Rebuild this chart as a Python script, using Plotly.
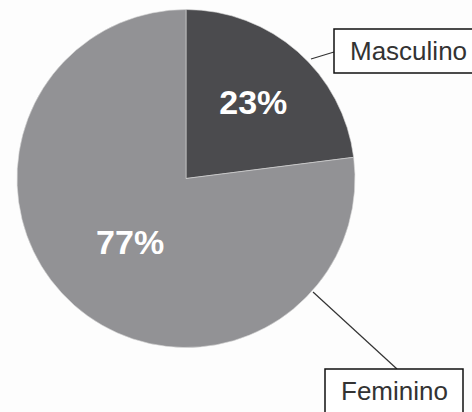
import plotly.graph_objects as go

labels = ["Masculino", "Feminino"]
values = [23, 77]
colors = ["#4b4b4e", "#929295"]

W, H = 472, 412
cx, cy, r = 186, 178.5, 169

fig = go.Figure(go.Pie(
    labels=labels,
    values=values,
    sort=False,
    direction="clockwise",
    rotation=0,
    marker=dict(colors=colors, line=dict(color="#d8d8d8", width=0.6)),
    textinfo="percent",
    texttemplate="%{percent:.0%}",
    textposition="inside",
    insidetextorientation="horizontal",
    textfont=dict(family="Liberation Sans, Arial, sans-serif", size=34, color="white", weight="bold"),
    domain=dict(x=[(cx - r) / W, (cx + r) / W], y=[(H - cy - r) / H, (H - cy + r) / H]),
    showlegend=False,
    hoverinfo="label+percent",
))

label_font = dict(family="Liberation Sans, Arial, sans-serif", size=26, color="#333333")


def px(x):
    return x / W


def py(y):
    return 1 - y / H


# label callouts: text, rim point (x, y), line end on box (x, y), box (x0, y0, x1, y1)
callouts = [
    (labels[0], (311, 59), (334, 52), (334, 29, 482, 73)),
    (labels[1], (313, 292), (397, 369), (325, 369, 463, 415)),
]
for text, (rx, ry), (ex, ey), (x0, y0, x1, y1) in callouts:
    fig.add_shape(type="line", xref="paper", yref="paper",
                  x0=px(rx), y0=py(ry), x1=px(ex), y1=py(ey),
                  line=dict(color="#333333", width=1.2))
    fig.add_shape(type="rect", xref="paper", yref="paper",
                  x0=px(x0), y0=py(y0), x1=px(x1), y1=py(y1),
                  line=dict(color="#111111", width=1.5), fillcolor="white")
    tx = x0 + (x1 - x0) / 2 if x1 <= W else x0 + 14
    fig.add_annotation(
        x=px(tx), y=py(y0 + 22), xref="paper", yref="paper",
        xanchor="center" if x1 <= W else "left", yanchor="middle",
        text=text, showarrow=False, font=label_font,
    )

fig.update_layout(
    width=W, height=H,
    margin=dict(l=0, r=0, t=0, b=0),
    paper_bgcolor="#fdfdfd",
    plot_bgcolor="#fdfdfd",
)

fig.write_html(
    "out.html",
    config={"displayModeBar": False},
    post_script="document.body.style.margin='0';document.body.style.overflow='hidden';",
)
